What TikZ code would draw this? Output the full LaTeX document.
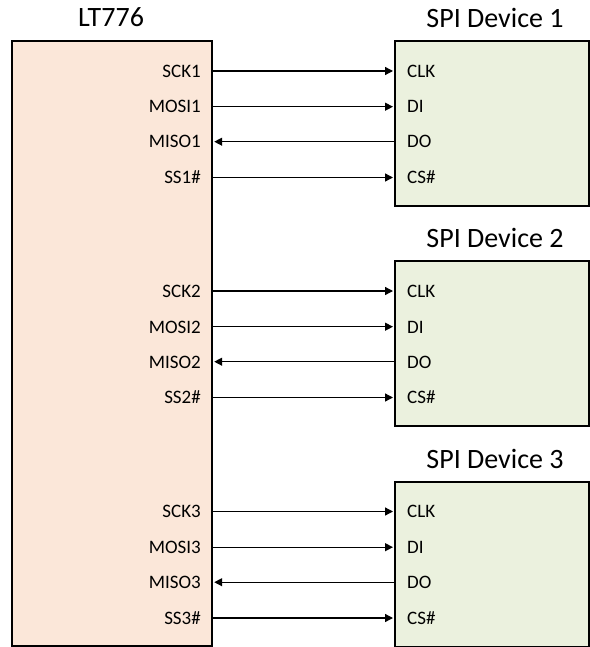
\documentclass[tikz,border=0pt]{standalone}
\usepackage{fontspec}
\setmainfont{Carlito}
\usetikzlibrary{arrows.meta}
\definecolor{peach}{RGB}{251,231,217}
\definecolor{olivelt}{RGB}{235,241,222}
\begin{document}
\begin{tikzpicture}[x=1pt,y=-1pt,
  chip/.style={draw=black,line width=2.2pt,fill=peach,inner sep=0pt,anchor=north west},
  dev/.style={draw=black,line width=2.2pt,fill=olivelt,inner sep=0pt,anchor=north west},
  title/.style={font=\fontsize{28}{30}\selectfont,anchor=base,inner sep=0pt},
  pinl/.style={font=\fontsize{19}{21}\selectfont,anchor=base east,inner sep=0pt},
  pinr/.style={font=\fontsize{19}{21}\selectfont,anchor=base west,inner sep=0pt},
  sig/.style={line width=1.3pt,-{Triangle[length=8pt,width=8pt]},shorten >=1pt}]
\useasboundingbox (0,0) rectangle (589,647);
% master chip
\node[chip,minimum width=200pt,minimum height=605pt] (lt) at (11,40) {};
\node[title] (ltt) at (111,27) {LT776};
% devices
\foreach \k/\t/\b in {1/40/71,2/260/291,3/481/511.5}{
  \node[dev,minimum width=193.5pt,minimum height=165pt] (d\k) at (394,\t) {};
  \node[title] (dt\k) at (495,\t-12.5) {SPI Device \k};
  \foreach \i/\y/\ln/\rn/\s/\e in {0/0/SCK\k/CLK/p/q,1/35.7/MOSI\k/DI/p/q,2/70.7/MISO\k/DO/q/p,3/106.5/SS\k\#/CS\#/p/q}{
    \pgfmathsetmacro\yy{\b+\y}
    \coordinate (p\k\i) at (lt.east |- 0,\yy);
    \coordinate (q\k\i) at (d\k.west |- 0,\yy);
    \node[pinl] (lp\k\i) at (201,\yy+6.3) {\ln};
    \node[pinr] (rp\k\i) at (407,\yy+6.3) {\rn};
    \draw[sig] (\s\k\i) -- (\e\k\i);
  }
}
\end{tikzpicture}
\end{document}
